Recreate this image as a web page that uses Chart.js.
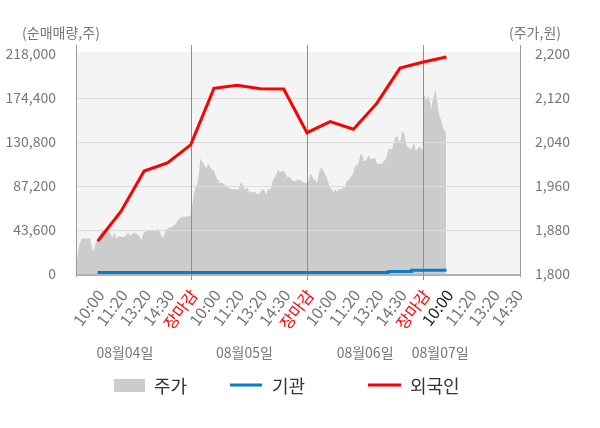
<!DOCTYPE html>
<html><head><meta charset="utf-8">
<script src="https://cdn.jsdelivr.net/npm/chart.js@4/dist/chart.umd.min.js"></script>
<style>html,body{margin:0;padding:0;background:#fff}#wrap{width:600px;height:428px}</style>
</head><body><div id="wrap"><canvas id="c" width="600" height="428"></canvas></div>
<script>
const tickLabels = ['10:00','11:20','13:20','14:30','장마감','10:00','11:20','13:20','14:30','장마감','10:00','11:20','13:20','14:30','장마감','10:00','11:20','13:20','14:30'];
const dateLabels = ['08월04일','08월05일','08월06일','08월07일'];
const leftTicks = [0, 43600, 87200, 130800, 174400, 218000];
const rightTicks = [1800, 1880, 1960, 2040, 2120, 2200];

const priceTime = [0.05,0.13,0.2,0.3,0.41,0.56,0.67,0.73,0.81,0.91,1.01,1.13,1.21,1.3,1.41,1.53,1.63,1.73,1.8,1.92,2.06,2.2,2.3,2.42,2.53,2.68,2.79,2.88,2.99,3.14,3.31,3.45,3.57,3.65,3.74,3.82,3.92,4.07,4.21,4.35,4.46,4.6,4.74,4.89,4.99,
5.03,5.09,5.14,5.2,5.29,5.36,5.42,5.49,5.57,5.67,5.75,5.82,5.92,6.0,6.06,6.15,6.25,6.39,6.49,6.61,6.75,6.89,7.04,7.11,7.18,7.25,7.32,7.44,7.51,7.61,7.75,7.85,7.97,8.07,8.15,8.25,8.33,8.44,8.54,8.64,8.76,8.84,8.94,9.04,9.14,9.26,9.36,9.47,9.59,9.69,9.79,9.9,9.99,
10.06,10.14,10.2,10.29,10.39,10.43,10.53,10.63,10.72,10.79,10.89,10.97,11.07,11.15,11.21,11.3,11.4,11.47,11.54,11.61,11.7,11.79,11.9,11.99,12.05,12.16,12.23,12.31,12.38,12.45,12.55,12.65,12.72,12.84,12.94,13.01,13.13,13.23,13.31,13.39,13.49,13.56,13.66,13.73,13.82,13.89,13.96,14.03,14.09,14.18,14.25,14.32,14.39,14.47,14.54,14.61,14.68,14.76,14.83,14.9,14.97,
15.03,15.1,15.16,15.22,15.29,15.33,15.39,15.46,15.52,15.58,15.65,15.72,15.79,15.86,15.94,15.98];
const price = [1816,1829,1850,1864,1864,1865,1865,1853,1839,1856,1862,1875,1882,1876,1884,1875,1867,1876,1864,1869,1867,1869,1875,1869,1875,1873,1869,1862,1876,1878,1880,1878,1882,1880,1869,1865,1880,1884,1886,1891,1898,1903,1904,1905,1905,
1916,1931,1947,1956,1965,1983,2010,2004,2000,1992,2000,1996,1989,1988,1980,1972,1966,1965,1962,1957,1954,1954,1953,1959,1968,1962,1953,1957,1950,1948,1950,1945,1947,1954,1953,1945,1954,1953,1972,1977,1990,1984,1988,1986,1977,1976,1971,1968,1972,1971,1968,1966,1966,
1968,1982,1980,1972,1970,1964,1986,1995,1986,1982,1971,1959,1953,1948,1954,1950,1956,1953,1958,1956,1968,1971,1977,1983,1996,1998,2004,2019,2016,2005,2007,2016,2009,2010,2010,2001,2000,2001,2006,2009,2025,2028,2027,2040,2049,2051,2040,2044,2059,2056,2040,2031,2030,2025,2033,2038,2024,2028,2031,2030,2025,
2125,2122,2116,2125,2113,2098,2113,2125,2136,2120,2095,2086,2077,2065,2059,2057];

const flowTime = [1,2,3,4,5,6,7,8,9,10,11,12,13,14,15,16];
const foreign = [32500,62000,102000,110000,128000,184000,187000,183600,183300,140000,151000,143400,169000,204000,210000,215000];
const institution = [1600,1600,1600,1600,1600,1600,1600,1600,1600,1600,1600,1600,1600,2500,3800,3800];

const FONT = '"Noto Sans CJK KR","Noto Sans",sans-serif';
const fmt = v => Number(v).toLocaleString('en-US');

const decor = {
  id: 'decor',
  beforeDatasetsDraw(chart) {
    const {ctx, chartArea: a} = chart;
    ctx.save();
    ctx.fillStyle = '#f4f4f4';
    ctx.fillRect(a.left, a.top - 2, a.right - a.left, a.bottom - a.top + 2);
    ctx.restore();
  },
  afterDatasetDraw(chart, args) {
    if (args.index !== 2) return;
    const {ctx, chartArea: a, scales} = chart;
    ctx.save();
    ctx.lineWidth = 1;
    ctx.strokeStyle = '#dcdcdc';
    leftTicks.forEach(v => {
      if (v === 0 || v === 218000) return;
      const y = Math.round(scales.yL.getPixelForValue(v)) + 0.5;
      ctx.beginPath(); ctx.moveTo(a.left, y); ctx.lineTo(a.right, y); ctx.stroke();
    });
    ctx.strokeStyle = '#8e8e8e';
    [5, 10, 15].forEach(v => {
      const x = Math.round(scales.x.getPixelForValue(v)) + 0.5;
      ctx.beginPath(); ctx.moveTo(x, a.top - 9); ctx.lineTo(x, a.bottom + 6); ctx.stroke();
    });
    ctx.strokeStyle = '#9a9a9a';
    [a.left, a.right].forEach(px => {
      const x = Math.round(px) + 0.5;
      ctx.beginPath(); ctx.moveTo(x, a.top - 9); ctx.lineTo(x, a.bottom + 3); ctx.stroke();
    });
    ctx.lineWidth = 1.5;
    ctx.beginPath(); ctx.moveTo(a.left, a.bottom + 1); ctx.lineTo(a.right, a.bottom + 1); ctx.stroke();
    ctx.restore();
  },
  afterDraw(chart) {
    const {ctx, scales} = chart;
    ctx.save();
    ctx.fillStyle = '#777';
    ctx.font = '14px ' + FONT;
    ctx.textBaseline = 'middle';
    ctx.textAlign = 'center';
    ctx.fillText('(순매매량,주)', 61, 33);
    ctx.fillText('(주가,원)', 535, 33);
    const datePos = [2.17, 7.31, 12.5, 15.73];
    dateLabels.forEach((t, i) => {
      ctx.fillText(t, scales.x.getPixelForValue(datePos[i]), 353);
    });
    const ly = 385;
    ctx.font = '18px ' + FONT;
    ctx.textAlign = 'left';
    ctx.fillStyle = '#cccccc';
    ctx.fillRect(114, ly - 6, 31, 13);
    ctx.lineWidth = 3;
    ctx.strokeStyle = '#0a7dc8';
    ctx.beginPath(); ctx.moveTo(230, ly); ctx.lineTo(262, ly); ctx.stroke();
    ctx.strokeStyle = '#ff0000';
    ctx.beginPath(); ctx.moveTo(368, ly); ctx.lineTo(401, ly); ctx.stroke();
    ctx.fillStyle = '#333';
    ctx.fillText('주가', 154, ly + 1);
    ctx.fillText('기관', 272, ly + 1);
    ctx.fillText('외국인', 410, ly + 1);
    ctx.restore();
  }
};

new Chart(document.getElementById('c'), {
  type: 'line',
  data: {
    datasets: [
      { label: '외국인', yAxisID: 'yL', data: flowTime.map((x, i) => ({x, y: foreign[i]})),
        borderColor: '#ff0000', borderWidth: 3, pointRadius: 0, tension: 0, fill: false },
      { label: '기관', yAxisID: 'yL', data: flowTime.map((x, i) => ({x, y: institution[i]})),
        borderColor: '#0a7dc8', borderWidth: 3, pointRadius: 0, stepped: 'middle', fill: false },
      { label: '주가', yAxisID: 'yR', data: priceTime.map((x, i) => ({x, y: price[i]})),
        borderWidth: 0, borderColor: 'rgba(0,0,0,0)', backgroundColor: '#cccccc', pointRadius: 0, fill: 'start', tension: 0 }
    ]
  },
  options: {
    responsive: false,
    animation: false,
    devicePixelRatio: 1,
    layout: { padding: { top: 54, left: 0, right: 0, bottom: 0 } },
    plugins: { legend: { display: false }, tooltip: { enabled: false } },
    scales: {
      x: {
        type: 'linear', min: 0.07, max: 19.16,
        afterBuildTicks: s => { s.ticks = tickLabels.map((_, i) => ({ value: i + 1 })); },
        afterFit: s => { s.height = 154; },
        grid: { display: false }, border: { display: false },
        ticks: {
          autoSkip: false, minRotation: 53, maxRotation: 53, padding: 4, labelOffset: 3,
          font: { size: 16, family: FONT },
          color: c => { const t = tickLabels[c.index]; return t === '장마감' ? '#ff0000' : (c.index === 15 ? '#222222' : '#777777'); },
          callback: (v, i) => tickLabels[i]
        }
      },
      yL: {
        position: 'left', min: 0, max: 218000,
        afterBuildTicks: s => { s.ticks = leftTicks.map(v => ({ value: v })); },
        afterFit: s => { s.width = 76; },
        grid: { display: false }, border: { display: false },
        ticks: { padding: 12, color: '#777', font: { size: 14, family: FONT }, callback: v => fmt(v) }
      },
      yR: {
        position: 'right', min: 1800, max: 2200,
        afterBuildTicks: s => { s.ticks = rightTicks.map(v => ({ value: v })); },
        afterFit: s => { s.width = 80; },
        grid: { display: false }, border: { display: false },
        ticks: { padding: 7, color: '#777', font: { size: 14, family: FONT }, callback: v => fmt(v) }
      }
    }
  },
  plugins: [decor]
});
</script></body></html>
